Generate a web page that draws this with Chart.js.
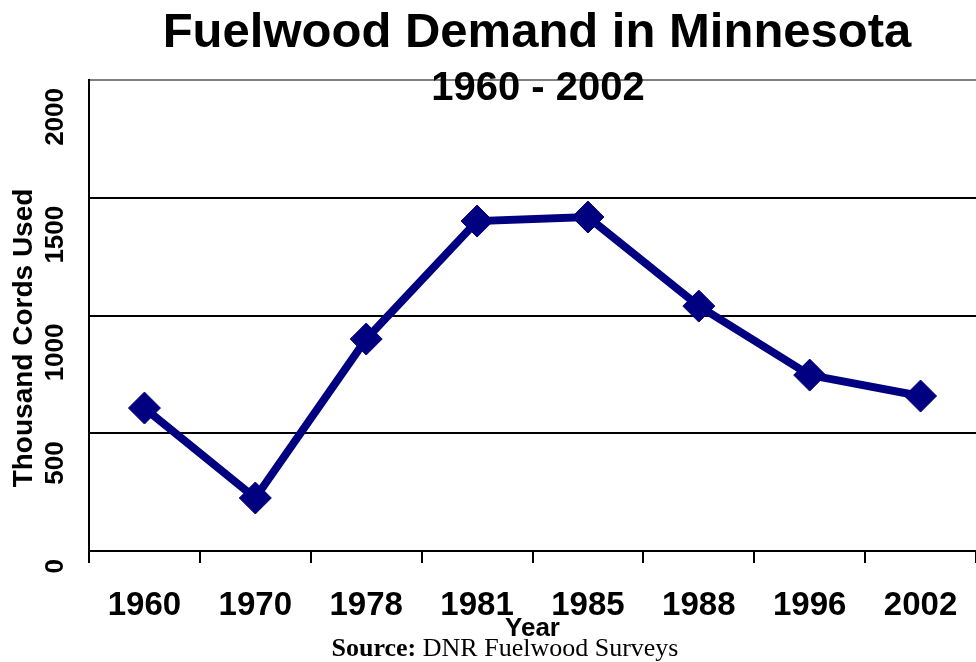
<!DOCTYPE html>
<html><head><meta charset="utf-8">
<script src="https://cdn.jsdelivr.net/npm/chart.js@4"></script>
<style>html,body{margin:0;padding:0;background:#fff}#wrap{width:976px;height:662px}</style>
</head><body><div id="wrap"><canvas id="c" width="976" height="662"></canvas></div>
<script>
const years = ['1960','1970','1978','1981','1985','1988','1996','2002'];
const cordsUsed = [607, 225, 900, 1401, 1418, 1040, 747, 658];
const yTickValues = [0, 500, 1000, 1500, 2000];
const titleText = 'Fuelwood Demand in Minnesota';
const subtitleText = '1960 - 2002';
const yTitleText = 'Thousand Cords Used';
const xTitleText = 'Year';
const sourceBold = 'Source:';
const sourceRest = ' DNR Fuelwood Surveys';

const SANS = "'Liberation Sans', Arial, sans-serif";
const SERIF = "'Liberation Serif', 'Times New Roman', serif";

const textPlugin = {
  id: 'textPlugin',
  afterDraw(chart) {
    const ctx = chart.ctx;
    ctx.save();
    ctx.fillStyle = '#000';
    ctx.textAlign = 'center';
    ctx.textBaseline = 'alphabetic';
    ctx.font = "bold 49px " + SANS;
    ctx.fillText(titleText, 537, 47);
    ctx.font = "bold 40px " + SANS;
    ctx.fillText(subtitleText, 538, 100);
    // y title
    ctx.save();
    ctx.translate(24, 338);
    ctx.rotate(-Math.PI / 2);
    ctx.font = "bold 28px " + SANS;
    ctx.textBaseline = 'middle';
    ctx.fillText(yTitleText, 0, 0);
    ctx.restore();
    // source
    ctx.textAlign = 'left';
    ctx.font = "bold 26px " + SERIF;
    const wb = ctx.measureText(sourceBold).width;
    ctx.font = "26px " + SERIF;
    const wr = ctx.measureText(sourceRest).width;
    const x0 = 505 - (wb + wr) / 2;
    ctx.font = "bold 26px " + SERIF;
    ctx.fillText(sourceBold, x0, 656);
    ctx.font = "26px " + SERIF;
    ctx.fillText(sourceRest, x0 + wb, 656);
    ctx.restore();
  }
};

new Chart(document.getElementById('c'), {
  type: 'line',
  data: {
    labels: years,
    datasets: [{
      data: cordsUsed,
      borderColor: '#000080',
      backgroundColor: '#000080',
      borderWidth: 8,
      pointStyle: 'rectRot',
      pointRadius: 16,
      pointBackgroundColor: '#000080',
      pointBorderColor: '#000080',
      pointBorderWidth: 1,
      tension: 0,
      fill: false,
      clip: false
    }]
  },
  options: {
    responsive: false,
    animation: false,
    devicePixelRatio: 1,
    layout: { autoPadding: false, padding: { top: 80, left: 0, right: 0, bottom: 0 } },
    plugins: { legend: { display: false }, tooltip: { enabled: false }, title: { display: false } },
    scales: {
      x: {
        type: 'category',
        offset: true,
        grid: { offset: true, drawOnChartArea: false, drawTicks: true, tickLength: 12, color: '#000', lineWidth: 2 },
        border: { display: true, color: '#000', width: 2 },
        ticks: { color: '#000', font: { family: SANS, weight: 'bold', size: 33 }, padding: 23, maxRotation: 0, minRotation: 0, autoSkip: false },
        title: { display: true, text: xTitleText, color: '#000', font: { family: SANS, weight: 'bold', size: 26, lineHeight: 1 }, padding: { top: 0, bottom: 20 } },
        afterFit(s) { s.height = 111; s.paddingLeft = 0; s.paddingRight = 0; }
      },
      y: {
        min: 0, max: 2000,
        afterBuildTicks(s) { s.ticks = yTickValues.map(v => ({ value: v })); },
        grid: {
          drawTicks: false,
          lineWidth: 2,
          color: c => (c.tick && c.tick.value === 2000) ? '#808080' : '#000'
        },
        border: { display: true, color: '#000', width: 2 },
        ticks: { color: '#000', font: { family: SANS, weight: 'bold', size: 26 }, padding: 33, minRotation: 90, maxRotation: 90, labelOffset: 8, autoSkip: false, callback: v => String(v) },
        afterFit(s) { s.width = 89; s.paddingTop = 0; s.paddingBottom = 0; }
      }
    }
  },
  plugins: [textPlugin]
});
</script>
</body></html>
